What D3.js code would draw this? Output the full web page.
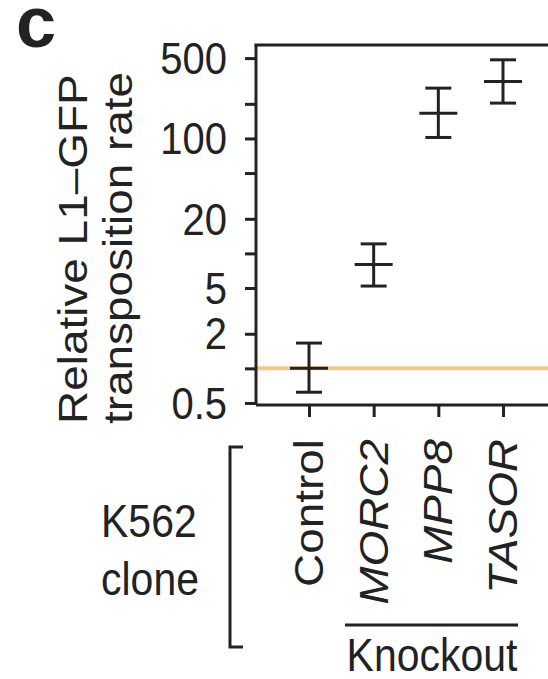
<!DOCTYPE html>
<html>
<head>
<meta charset="utf-8">
<script src="https://cdn.jsdelivr.net/npm/d3@7"></script>
<style>
  body { margin: 0; background: #fff; }
  svg { display: block; }
  text { font-family: "Liberation Sans", Arial, Helvetica, sans-serif; fill: #222; }
</style>
</head>
<body>
<div id="chart"></div>
<script>
var clones = ["Control", "MORC2", "MPP8", "TASOR"];
var italicClone = [false, true, true, true];
var meanRate = [1.0, 8.0, 166, 313];
var lowerRate = [0.62, 5.2, 102, 203];
var upperRate = [1.66, 12.1, 274, 483];
var baselineRate = 1;

var yTickValues = [0.5, 1, 2, 5, 10, 20, 50, 100, 200, 500];
var yTickLabels = ["0.5", "", "2", "5", "", "20", "", "100", "", "500"];

var svgWidth = 548;
var svgHeight = 679;

var margin = {
  top: 45,
  left: 256,
  bottom: 274
};

// the figure's lettering is a little taller than it is wide
var stretch = 1.12;
var fontSize = 41;

var plotTop = margin.top;
var plotBottom = svgHeight - margin.bottom;

var svg = d3.select("#chart")
  .append("svg")
  .attr("width", svgWidth)
  .attr("height", svgHeight);

var xScale = d3.scalePoint()
  .domain(clones)
  .range([309, 503]);

var yScale = d3.scaleLog()
  .domain([0.48, 650])
  .range([plotBottom, plotTop]);

// baseline (control level)
svg.append("line")
  .attr("x1", margin.left)
  .attr("x2", svgWidth + 20)
  .attr("y1", yScale(baselineRate))
  .attr("y2", yScale(baselineRate))
  .attr("stroke", "#f3c882")
  .attr("stroke-width", 4);

// y axis
var leftAxis = d3.axisLeft(yScale)
  .tickValues(yTickValues)
  .tickFormat((d, i) => yTickLabels[i])
  .tickSize(11)
  .tickPadding(18);

var yAxis = svg.append("g")
  .attr("transform", `translate(${margin.left}, 0)`)
  .call(leftAxis);

yAxis.select(".domain")
  .attr("d", `M0,${plotTop}V${plotBottom}`);

yAxis.selectAll(".tick text")
  .attr("dy", "0.34em")
  .attr("transform", `scale(1, ${stretch})`);

// x axis
var bottomAxis = d3.axisBottom(xScale)
  .tickSize(12)
  .tickFormat("");

var xAxis = svg.append("g")
  .attr("transform", `translate(0, ${plotBottom})`)
  .call(bottomAxis);

xAxis.select(".domain")
  .attr("d", `M${margin.left},0H${svgWidth + 20}`);

[yAxis, xAxis].forEach(ax => {
  ax.select(".domain").attr("stroke", "#222").attr("stroke-width", 3);
  ax.selectAll(".tick line").attr("stroke", "#222").attr("stroke-width", 3);
  ax.selectAll("text")
    .attr("font-size", "40px")
    .attr("fill", "#222")
    .style("font-family", "'Liberation Sans', Arial, sans-serif");
});

// top frame
svg.append("line")
  .attr("x1", margin.left - 1.5)
  .attr("x2", svgWidth + 20)
  .attr("y1", plotTop)
  .attr("y2", plotTop)
  .attr("stroke", "#222")
  .attr("stroke-width", 3);

// error bars
var bars = svg.append("g")
  .selectAll("g")
  .data(clones)
  .enter()
  .append("g")
  .attr("stroke", "#222")
  .attr("stroke-width", 3);

bars.append("line")
  .attr("x1", d => xScale(d))
  .attr("x2", d => xScale(d))
  .attr("y1", (d, i) => yScale(lowerRate[i]))
  .attr("y2", (d, i) => yScale(upperRate[i]));

bars.append("line")
  .attr("x1", d => xScale(d) - 13)
  .attr("x2", d => xScale(d) + 13)
  .attr("y1", (d, i) => yScale(upperRate[i]))
  .attr("y2", (d, i) => yScale(upperRate[i]));

bars.append("line")
  .attr("x1", d => xScale(d) - 13)
  .attr("x2", d => xScale(d) + 13)
  .attr("y1", (d, i) => yScale(lowerRate[i]))
  .attr("y2", (d, i) => yScale(lowerRate[i]));

bars.append("line")
  .attr("x1", d => xScale(d) - 19)
  .attr("x2", d => xScale(d) + 19)
  .attr("y1", (d, i) => yScale(meanRate[i]))
  .attr("y2", (d, i) => yScale(meanRate[i]));

// clone labels
svg.append("g")
  .selectAll("text")
  .data(clones)
  .enter()
  .append("text")
  .attr("transform", d => `translate(${xScale(d) + 14}, ${plotBottom + 34}) scale(1, ${stretch}) rotate(-90)`)
  .attr("text-anchor", "end")
  .attr("font-size", fontSize + "px")
  .attr("font-style", (d, i) => italicClone[i] ? "italic" : "normal")
  .text(d => d);

// y axis title
svg.append("text")
  .attr("transform", `translate(87, 424) scale(1, ${stretch}) rotate(-90)`)
  .attr("text-anchor", "start")
  .attr("font-size", fontSize + "px")
  .text("Relative L1\u2013GFP");

svg.append("text")
  .attr("transform", `translate(132, 424) scale(1, ${stretch}) rotate(-90)`)
  .attr("text-anchor", "start")
  .attr("font-size", fontSize + "px")
  .text("transposition rate");

// panel letter
svg.append("text")
  .attr("x", 16)
  .attr("y", 47)
  .attr("font-size", "72px")
  .attr("font-weight", "bold")
  .attr("fill", "#111")
  .text("c");

// K562 clone bracket
svg.append("path")
  .attr("d", "M243,447H230V647H243")
  .attr("fill", "none")
  .attr("stroke", "#222")
  .attr("stroke-width", 3);

svg.append("text")
  .attr("transform", `translate(101, 537) scale(1, ${stretch})`)
  .attr("font-size", fontSize + "px")
  .text("K562");

svg.append("text")
  .attr("transform", `translate(101, 595) scale(1, ${stretch})`)
  .attr("font-size", fontSize + "px")
  .text("clone");

// knockout group
svg.append("line")
  .attr("x1", 345)
  .attr("x2", 518)
  .attr("y1", 625)
  .attr("y2", 625)
  .attr("stroke", "#222")
  .attr("stroke-width", 3);

svg.append("text")
  .attr("transform", `translate(432, 671) scale(1, ${stretch})`)
  .attr("text-anchor", "middle")
  .attr("font-size", fontSize + "px")
  .text("Knockout");
</script>
</body>
</html>
